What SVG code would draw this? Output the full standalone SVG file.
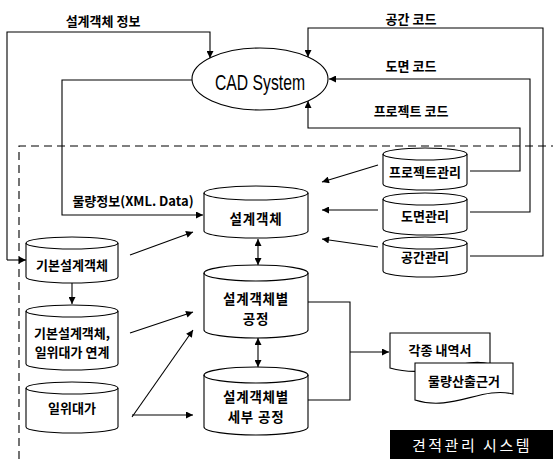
<svg xmlns="http://www.w3.org/2000/svg" width="553" height="459" viewBox="0 0 553 459">
<defs>
<marker id="ah" viewBox="0 0 10 10" refX="10" refY="5" markerWidth="8" markerHeight="7" markerUnits="userSpaceOnUse" orient="auto-start-reverse">
<path d="M0,0 L10,5 L0,10 Z" fill="#000"/>
</marker>
</defs>
<style>
.ln{fill:none;stroke:#000;stroke-width:1.1}
.ar{marker-end:url(#ah)}
.da{marker-start:url(#ah);marker-end:url(#ah)}
.cy{fill:#fff;stroke:#000;stroke-width:1.1}
.kt{font-family:"Noto Sans CJK KR","Noto Sans",sans-serif;font-weight:bold;font-size:13px;fill:#000;text-anchor:middle}
.ct{font-family:"Noto Sans CJK KR","Noto Sans",sans-serif;font-weight:bold;font-size:13.5px;fill:#000;text-anchor:middle;letter-spacing:0.8px}
</style>
<rect width="553" height="459" fill="#fff"/>

<g id="boundary">
<path d="M19,459 V146 H553" fill="none" stroke="#000" stroke-width="1.1" stroke-dasharray="8,5"/>
</g>

<g id="connectors">
<path class="ln ar" d="M7,260 V32 H210 V58"/>
<path class="ln ar" d="M7,260 H26"/>
<path class="ln ar" d="M192,80 H62 V215 H203"/>
<path class="ln ar" d="M470,256 H543 V28 H308 V57"/>
<path class="ln ar" d="M470,212 H530 V79 H329"/>
<path class="ln ar" d="M470,171 H520 V128 H308 V101"/>
<path class="ln ar" d="M378,165 L322,182"/>
<path class="ln ar" d="M378,210 L322,210"/>
<path class="ln ar" d="M378,247 L322,239"/>
<path class="ln ar" d="M130,255 L193,232"/>
<path class="ln ar" d="M72,283 V304"/>
<path class="ln ar" d="M130,333 L193,312"/>
<path class="ln ar" d="M132,417 L193,330"/>
<path class="ln ar" d="M132,415 H193"/>
<path class="ln da" d="M258,239 V265"/>
<path class="ln da" d="M258,338 V367"/>
<path class="ln" d="M308,302 H350 V400 H308"/>
<path class="ln ar" d="M350,352 H389"/>
</g>

<g id="labels">
<text class="kt" x="103" y="26">설계객체 정보</text>
<text class="kt" x="411" y="24">공간 코드</text>
<text class="kt" x="411" y="71">도면 코드</text>
<text class="kt" x="411" y="116">프로젝트 코드</text>
<text class="kt" x="133" y="206" font-size="12.5">물량정보(XML. Data)</text>
</g>

<g id="cad">
<ellipse cx="260" cy="79" rx="68" ry="31" fill="#fff" stroke="#000" stroke-width="1.1"/>
<text x="260" y="90" font-family="Liberation Sans, Arial, sans-serif" font-size="22" text-anchor="middle" textLength="90" lengthAdjust="spacingAndGlyphs">CAD System</text>
</g>

<g id="seolgye">
<path class="cy" d="M204,193 A52,7 0 0 1 308,193 V231 A52,7 0 0 1 204,231 Z"/>
<path class="ln" d="M204,193 A52,7 0 0 0 308,193"/>
<text class="ct" x="256" y="224" font-size="15" letter-spacing="1.5">설계객체</text>
</g>

<g id="gongjeong">
<path class="cy" d="M204,273 A52,8 0 0 1 308,273 V330 A52,8 0 0 1 204,330 Z"/>
<path class="ln" d="M204,273 A52,8 0 0 0 308,273"/>
<text class="ct" x="256" y="304">설계객체별</text>
<text class="ct" x="256" y="324">공정</text>
</g>

<g id="sebu">
<path class="cy" d="M204,375 A52,8 0 0 1 308,375 V427 A52,8 0 0 1 204,427 Z"/>
<path class="ln" d="M204,375 A52,8 0 0 0 308,375"/>
<text class="ct" x="256" y="402">설계객체별</text>
<text class="ct" x="256" y="422">세부 공정</text>
</g>

<g id="project">
<path class="cy" d="M383,154 A42,6 0 0 1 467,154 V184 A42,6 0 0 1 383,184 Z"/>
<path class="ln" d="M383,154 A42,6 0 0 0 467,154"/>
<text class="kt" x="425" y="177">프로젝트관리</text>
</g>

<g id="domyeon">
<path class="cy" d="M383,199 A42,6 0 0 1 467,199 V229 A42,6 0 0 1 383,229 Z"/>
<path class="ln" d="M383,199 A42,6 0 0 0 467,199"/>
<text class="kt" x="425" y="221">도면관리</text>
</g>

<g id="gonggan">
<path class="cy" d="M383,243 A42,6 0 0 1 467,243 V271 A42,6 0 0 1 383,271 Z"/>
<path class="ln" d="M383,243 A42,6 0 0 0 467,243"/>
<text class="kt" x="425" y="262">공간관리</text>
</g>

<g id="gibon">
<path class="cy" d="M26,243 A46,6 0 0 1 118,243 V277 A46,6 0 0 1 26,277 Z"/>
<path class="ln" d="M26,243 A46,6 0 0 0 118,243"/>
<text class="kt" x="72" y="270">기본설계객체</text>
</g>

<g id="yeongye">
<path class="cy" d="M26,311 A46,6 0 0 1 118,311 V364 A46,6 0 0 1 26,364 Z"/>
<path class="ln" d="M26,311 A46,6 0 0 0 118,311"/>
<text class="kt" x="72" y="338" font-size="12.5">기본설계객체,</text>
<text class="kt" x="72" y="357" font-size="12.5">일위대가 연계</text>
</g>

<g id="ilwi">
<path class="cy" d="M26,388 A46,6 0 0 1 118,388 V427 A46,6 0 0 1 26,427 Z"/>
<path class="ln" d="M26,388 A46,6 0 0 0 118,388"/>
<text class="kt" x="72" y="413">일위대가</text>
</g>

<g id="naeyeok">
<path class="cy" d="M390,333 H490 V364 C462,356 432,380 390,368 Z"/>
<text class="kt" x="440" y="355">각종 내역서</text>
</g>

<g id="sanchul">
<path class="cy" d="M415,363 H513 V394 C482,386 452,412 415,400 Z"/>
<text class="kt" x="464" y="386">물량산출근거</text>
</g>

<g id="title">
<rect x="390" y="430" width="163" height="29" fill="#000"/>
<text x="472" y="451" font-family="Noto Sans CJK KR, sans-serif" font-size="15" fill="#fff" text-anchor="middle" letter-spacing="2.5">견적관리 시스템</text>
</g>
</svg>
